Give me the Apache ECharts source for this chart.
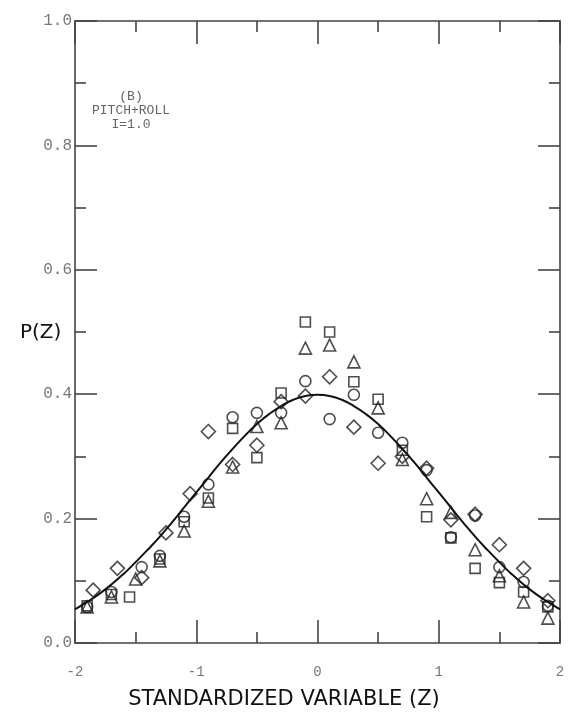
<!DOCTYPE html>
<html>
<head>
<meta charset="utf-8">
<script src="https://cdn.jsdelivr.net/npm/echarts@6/dist/echarts.min.js"></script>
<style>
html,body{margin:0;padding:0;background:#fff;}
#chart{width:568px;height:721px;}
</style>
</head>
<body>
<div id="chart"></div>
<script>
// Standard normal curve
const curveZ = [-2.0,-1.9,-1.8,-1.7,-1.6,-1.5,-1.4,-1.3,-1.2,-1.1,-1.0,-0.9,-0.8,-0.7,-0.6,-0.5,-0.4,-0.3,-0.2,-0.1,0.0,0.1,0.2,0.3,0.4,0.5,0.6,0.7,0.8,0.9,1.0,1.1,1.2,1.3,1.4,1.5,1.6,1.7,1.8,1.9,2.0];
const curveP = [0.054,0.066,0.079,0.094,0.111,0.130,0.150,0.171,0.194,0.218,0.242,0.266,0.290,0.312,0.333,0.352,0.368,0.381,0.391,0.397,0.399,0.397,0.391,0.381,0.368,0.352,0.333,0.312,0.290,0.266,0.242,0.218,0.194,0.171,0.150,0.130,0.111,0.094,0.079,0.066,0.054];

// Circles
const circleZ = [-1.9,-1.7,-1.45,-1.3,-1.1,-0.9,-0.7,-0.5,-0.3,-0.1,0.1,0.3,0.5,0.7,0.9,1.1,1.3,1.5,1.7,1.9];
const circleP = [0.058,0.082,0.122,0.140,0.203,0.255,0.363,0.370,0.370,0.421,0.360,0.399,0.338,0.322,0.278,0.170,0.205,0.122,0.098,0.060];
// Squares
const squareZ = [-1.9,-1.7,-1.55,-1.3,-1.1,-0.9,-0.7,-0.5,-0.3,-0.1,0.1,0.3,0.5,0.7,0.9,1.1,1.3,1.5,1.7,1.9];
const squareP = [0.060,0.078,0.074,0.135,0.195,0.233,0.345,0.298,0.402,0.516,0.500,0.420,0.392,0.310,0.203,0.169,0.120,0.097,0.082,0.058];
// Triangles
const triangleZ = [-1.9,-1.7,-1.5,-1.3,-1.1,-0.9,-0.7,-0.5,-0.3,-0.1,0.1,0.3,0.5,0.7,0.9,1.1,1.3,1.5,1.7,1.9];
const triangleP = [0.058,0.074,0.103,0.132,0.180,0.228,0.283,0.348,0.354,0.474,0.479,0.452,0.378,0.295,0.232,0.210,0.150,0.108,0.066,0.040];
// Diamonds
const diamondZ = [-1.85,-1.65,-1.45,-1.25,-1.05,-0.9,-0.7,-0.5,-0.3,-0.1,0.1,0.3,0.5,0.7,0.9,1.1,1.3,1.5,1.7,1.9];
const diamondP = [0.085,0.120,0.105,0.177,0.240,0.340,0.287,0.318,0.388,0.397,0.428,0.347,0.289,0.300,0.281,0.198,0.207,0.158,0.120,0.068];

// Tick labels
const yTickLabels = ['0.0','0.2','0.4','0.6','0.8','1.0'];
const xTickLabels = ['-2','-1','0','1','2'];

const zip = (a,b) => a.map((v,i)=>[v,b[i]]);
const mono = '"Liberation Mono","DejaVu Sans Mono",monospace';
const sans = '"DejaVu Sans","Noto Sans",sans-serif';
const axisCol = '#444';

function markerSeries(name, sym, size, z, p){
  return {
    name, type:'scatter', symbol:sym, symbolSize:size,
    data: zip(z,p),
    itemStyle:{color:'rgba(0,0,0,0)', borderColor:'#222', borderWidth:1.6},
    z:3
  };
}

const chart = echarts.init(document.getElementById('chart'), null, {renderer:'canvas'});
const xCommon = {type:'value', min:-2, max:2, interval:1, splitLine:{show:false},
  axisLine:{show:true, onZero:false, lineStyle:{color:axisCol,width:1.6}},
  axisTick:{show:true, inside:true, length:23, lineStyle:{color:axisCol,width:1.6}},
  minorTick:{show:true, splitNumber:2, length:11, lineStyle:{color:axisCol,width:1.6}}};
const yCommon = {type:'value', min:0, max:1, interval:0.2, splitLine:{show:false},
  axisLine:{show:true, onZero:false, lineStyle:{color:axisCol,width:1.6}},
  axisTick:{show:true, inside:true, length:22, lineStyle:{color:axisCol,width:1.6}},
  minorTick:{show:true, splitNumber:2, length:11, lineStyle:{color:axisCol,width:1.6}}};

chart.setOption({
  backgroundColor:'#fff',
  animation:false,
  grid:{left:75, top:21, right:8, bottom:78, containLabel:false},
  xAxis:[
    Object.assign({}, xCommon, {position:'bottom',
      axisLabel:{show:true, margin:22, color:'#777', fontFamily:mono, fontSize:14,
        formatter:(v)=>xTickLabels[Math.round(v)+2]}}),
    Object.assign({}, xCommon, {position:'top', axisLabel:{show:false}})
  ],
  yAxis:[
    Object.assign({}, yCommon, {position:'left',
      axisLabel:{show:true, margin:3, color:'#777', fontFamily:mono, fontSize:16,
        formatter:(v)=>yTickLabels[Math.round(v*5)]}}),
    Object.assign({}, yCommon, {position:'right', axisLabel:{show:false}})
  ],
  series:[
    {name:'normal', type:'line', smooth:true, showSymbol:false, data:zip(curveZ,curveP),
     lineStyle:{color:'#111', width:2}, z:4},
    markerSeries('circle','circle',11,circleZ,circleP),
    markerSeries('square','rect',10,squareZ,squareP),
    markerSeries('triangle','triangle',12,triangleZ,triangleP),
    markerSeries('diamond','diamond',14,diamondZ,diamondP)
  ],
  graphic:[
    {type:'text', left:'center', top:689, style:{text:'STANDARDIZED VARIABLE (Z)', font:'21px '+sans, fill:'#111'}},
    {type:'text', left:20, top:323, style:{text:'P(Z)', font:'20px '+sans, fill:'#111'}},
    {type:'text', x:131, y:111, style:{text:'(B)\nPITCH+ROLL\nI=1.0', font:'13px '+mono, fill:'#666', align:'center', verticalAlign:'middle', lineHeight:14}}
  ]
});
</script>
</body>
</html>
